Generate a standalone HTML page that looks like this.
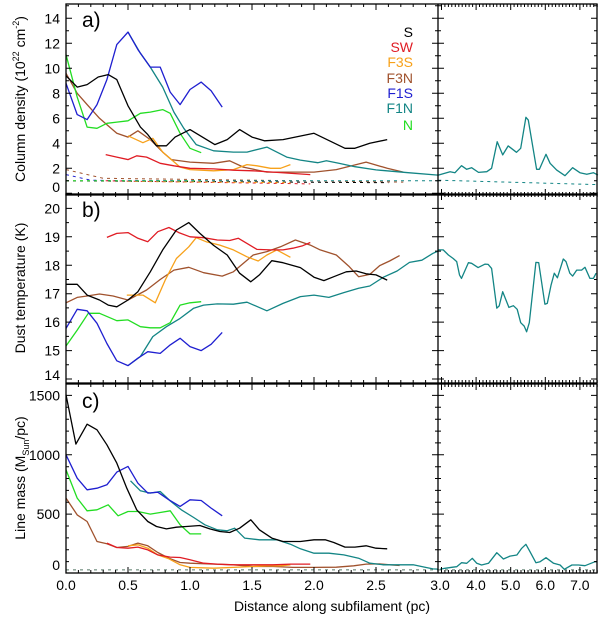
<!DOCTYPE html>
<html><head><meta charset="utf-8">
<style>
html,body{margin:0;padding:0;background:#fff;}
svg{display:block;font-family:"Liberation Sans",sans-serif;}
</style></head>
<body>
<svg id="chart" width="600" height="619" viewBox="0 0 600 619" xmlns="http://www.w3.org/2000/svg">
  <g id="marks"></g>
  <g id="axes"></g>
  <text transform="translate(25,99) rotate(-90)" text-anchor="middle" font-size="14">Column density (10<tspan font-size="9" dy="-6">22</tspan><tspan dy="6"> cm</tspan><tspan font-size="9" dy="-6">-2</tspan><tspan dy="6">)</tspan></text>
  <text transform="translate(25,288) rotate(-90)" text-anchor="middle" font-size="14">Dust temperature (K)</text>
  <text transform="translate(25,478) rotate(-90)" text-anchor="middle" font-size="14">Line mass (M<tspan font-size="9" dy="4">Sun</tspan><tspan dy="-4">/pc)</tspan></text>
  <text x="332" y="611" text-anchor="middle" font-size="14">Distance along subfilament (pc)</text>
  <text x="82" y="27" font-size="21">a)</text>
  <text x="82" y="217" font-size="21">b)</text>
  <text x="82" y="408" font-size="21">c)</text>
  <g font-size="14" text-anchor="end">
    <text x="413" y="37" fill="#000">S</text>
    <text x="413" y="52" fill="#e01c24">SW</text>
    <text x="413" y="67" fill="#f7a11a">F3S</text>
    <text x="413" y="83" fill="#a0522d">F3N</text>
    <text x="413" y="98" fill="#1f1fd0">F1S</text>
    <text x="413" y="113" fill="#138585">F1N</text>
    <text x="413" y="130" fill="#22dd22">N</text>
  </g>
</svg>
<script>
// ---- data: [distance pc, value] ----
const aS=[[0,9.4],[0.09,8.5],[0.17,8.7],[0.26,9.3],[0.34,9.5],[0.41,9.1],[0.5,7.0],[0.6,5.3],[0.66,4.7],[0.73,3.8],[0.81,3.8],[0.88,4.5],[1.0,5.1],[1.1,4.5],[1.2,3.9],[1.3,4.3],[1.4,5.1],[1.5,4.5],[1.6,4.2],[1.75,4.3],[2.0,4.8],[2.25,3.6],[2.33,3.6],[2.45,4.0],[2.59,4.3]];
const aSW=[[0.32,3.1],[0.41,2.9],[0.5,2.7],[0.57,3.0],[0.65,2.9],[0.76,2.4],[0.87,2.2],[1.0,2.0],[1.19,1.95],[1.35,1.85],[1.51,1.8],[1.67,1.7],[1.97,1.5]];
const aF3S=[[0.5,4.6],[0.62,4.05],[0.7,4.4],[0.78,3.3],[0.92,2.1],[1.0,1.9],[1.19,1.8],[1.35,1.9],[1.46,2.3],[1.54,2.2],[1.65,2.0],[1.73,2.0],[1.81,2.3]];
const aF3N=[[0,9.6],[0.09,8.0],[0.17,7.1],[0.27,6.0],[0.41,4.8],[0.5,4.5],[0.58,5.0],[0.68,4.3],[0.78,3.3],[0.85,2.7],[1.0,2.5],[1.19,2.4],[1.32,2.6],[1.43,2.1],[1.62,1.7],[2.0,1.7],[2.18,1.9],[2.42,2.5],[2.59,2.0],[2.72,1.7]];
const aF1S=[[0,8.8],[0.09,6.3],[0.17,5.9],[0.25,7.1],[0.33,9.1],[0.41,11.9],[0.5,12.9],[0.58,11.5],[0.68,10.1],[0.76,10.1],[0.84,8.1],[0.92,7.1],[1.0,8.3],[1.09,8.9],[1.17,8.2],[1.26,6.9]];
const aF1N=[[0.5,12.9],[0.6,11.2],[0.68,10.1],[0.78,8.5],[0.87,6.5],[0.95,5.2],[1.05,3.9],[1.19,3.4],[1.35,3.3],[1.46,3.3],[1.62,3.7],[1.78,2.9],[1.89,2.66],[2.03,2.45],[2.1,2.6],[2.2,2.4],[2.33,2.13],[2.5,1.87],[2.76,1.65],[3.0,1.46]];
const aF1Nright=[[2.91,1.46],[3.25,1.73],[3.39,1.65],[3.58,2.21],[3.73,1.92],[3.87,2.05],[4.07,1.67],[4.31,1.73],[4.45,2.0],[4.61,4.13],[4.77,3.07],[4.93,3.79],[5.17,3.28],[5.29,3.6],[5.44,6.08],[5.51,5.86],[5.75,1.92],[5.83,1.92],[6.02,3.12],[6.14,2.4],[6.33,1.86],[6.57,1.41],[6.79,2.05],[7.0,1.65],[7.2,1.52],[7.39,1.65],[7.52,1.46]];
const aN=[[0,11.1],[0.09,7.7],[0.17,5.3],[0.25,5.2],[0.33,5.6],[0.41,5.7],[0.5,5.8],[0.6,6.4],[0.68,6.5],[0.78,6.7],[0.84,6.4],[0.92,4.8],[1.0,3.6],[1.09,3.25]];
// background (dashed) column densities
const aBgS=[[0,1.0],[2.6,0.85]];
const aBgSW=[[0.32,1.0],[1.97,0.75]];
const aBgF3S=[[0.5,0.95],[1.81,0.85]];
const aBgF3N=[[0,1.9],[0.3,1.2],[2.72,0.9]];
const aBgF1S=[[0,1.5],[0.2,1.05],[1.26,0.9]];
const aBgF1N=[[0.5,1.0],[3.0,1.0]];
const aBgF1Nright=[[2.91,1.05],[7.5,0.7]];
const aBgN=[[0,1.0],[1.09,1.0]];

const bS=[[0,17.33],[0.09,17.33],[0.17,16.95],[0.27,16.78],[0.34,16.6],[0.41,16.54],[0.5,16.78],[0.58,17.07],[0.68,17.77],[0.78,18.54],[0.89,19.24],[0.99,19.5],[1.08,19.12],[1.19,18.7],[1.3,18.36],[1.4,17.72],[1.49,17.42],[1.56,17.66],[1.66,18.16],[1.75,18.09],[1.89,17.92],[2.0,17.58],[2.08,17.46],[2.16,17.6],[2.26,17.77],[2.34,17.8],[2.42,17.7],[2.5,17.66],[2.59,17.48]];
const bSW=[[0.33,18.98],[0.41,19.12],[0.5,19.15],[0.58,18.95],[0.66,18.83],[0.74,19.18],[0.83,19.33],[0.91,19.15],[1.0,19.0],[1.11,18.97],[1.22,18.89],[1.32,18.87],[1.39,18.95],[1.46,18.77],[1.54,18.56],[1.65,18.54],[1.75,18.54],[1.83,18.6],[1.91,18.69],[1.97,18.8]];
const bF3S=[[0.49,16.95],[0.62,16.95],[0.72,16.68],[0.8,17.48],[0.89,18.24],[0.99,18.65],[1.05,18.97],[1.13,18.83],[1.24,18.71],[1.35,18.54],[1.46,18.3],[1.55,18.15],[1.62,18.36],[1.7,18.54],[1.81,18.28]];
const bF3N=[[0,16.68],[0.09,16.87],[0.17,16.92],[0.27,16.99],[0.38,16.92],[0.5,16.78],[0.65,17.13],[0.76,17.5],[0.87,17.83],[0.99,17.93],[1.11,17.74],[1.26,17.62],[1.35,17.77],[1.51,18.36],[1.62,18.48],[1.73,18.65],[1.85,18.89],[1.97,18.71],[2.05,18.54],[2.18,18.36],[2.28,17.97],[2.36,17.6],[2.45,17.68],[2.53,17.99],[2.61,18.15],[2.69,18.34]];
const bF1S=[[0,15.78],[0.09,16.45],[0.17,16.4],[0.25,15.96],[0.33,15.25],[0.41,14.64],[0.5,14.47],[0.58,14.73],[0.66,14.96],[0.76,14.9],[0.84,15.2],[0.92,15.43],[1.0,15.14],[1.09,15.0],[1.17,15.22],[1.26,15.64]];
const bF1N=[[0.5,14.47],[0.6,14.79],[0.7,15.49],[0.81,15.84],[0.92,16.13],[1.03,16.49],[1.11,16.6],[1.22,16.64],[1.35,16.63],[1.46,16.7],[1.62,16.4],[1.75,16.66],[1.89,16.9],[2.0,16.95],[2.12,16.87],[2.24,17.04],[2.36,17.19],[2.45,17.27],[2.56,17.58],[2.67,17.8],[2.77,18.1],[2.87,18.18],[2.96,18.42],[3.0,18.5]];
const bF1Nright=[[2.91,18.54],[3.05,18.54],[3.2,18.36],[3.34,18.24],[3.44,18.13],[3.52,17.66],[3.58,17.54],[3.78,18.09],[3.87,18.07],[4.06,17.92],[4.26,18.04],[4.35,18.03],[4.45,17.89],[4.6,16.49],[4.67,16.57],[4.77,17.07],[4.95,16.52],[5.08,16.58],[5.19,16.45],[5.29,15.98],[5.39,15.86],[5.46,15.66],[5.54,15.98],[5.73,18.1],[5.81,18.09],[5.99,16.63],[6.06,16.66],[6.17,17.31],[6.26,17.72],[6.35,17.56],[6.52,18.22],[6.6,18.13],[6.71,17.72],[6.79,17.62],[6.91,17.83],[7.05,17.83],[7.15,17.93],[7.29,17.54],[7.39,17.54],[7.47,17.72]];
const bN=[[0,15.16],[0.09,15.72],[0.18,16.31],[0.27,16.31],[0.41,16.05],[0.5,16.08],[0.6,15.84],[0.68,15.8],[0.76,15.8],[0.84,15.98],[0.92,16.6],[1.0,16.68],[1.09,16.72]];

const cS=[[0,1506],[0.08,1090],[0.17,1258],[0.25,1211],[0.33,1084],[0.41,930],[0.49,719],[0.57,537],[0.66,438],[0.73,396],[0.81,376],[0.89,390],[0.97,396],[1.08,404],[1.16,376],[1.24,354],[1.32,345],[1.4,382],[1.49,452],[1.56,368],[1.66,298],[1.75,270],[1.89,270],[2.0,284],[2.09,284],[2.16,261],[2.25,222],[2.33,222],[2.42,233],[2.5,213],[2.59,208]];
const cSW=[[0.33,256],[0.41,219],[0.5,213],[0.58,222],[0.66,199],[0.74,157],[0.84,138],[0.92,135],[1.0,115],[1.11,87],[1.22,79],[1.35,73],[1.51,73],[1.67,73],[1.81,79],[1.97,79]];
const cF3S=[[0.5,233],[0.58,242],[0.66,213],[0.74,157],[0.83,124],[0.92,73],[1.0,51],[1.19,45],[1.35,51],[1.51,59],[1.62,65],[1.73,65],[1.81,73]];
const cF3N=[[0,635],[0.09,494],[0.17,438],[0.25,270],[0.33,250],[0.41,219],[0.5,228],[0.58,256],[0.66,233],[0.74,177],[0.83,129],[0.92,93],[1.0,87],[1.19,79],[1.35,73],[1.51,59],[1.67,59],[1.83,51],[2.0,51],[2.18,53],[2.32,65],[2.42,79],[2.53,81],[2.61,73],[2.69,67]];
const cF1S=[[0,1000],[0.09,803],[0.17,705],[0.25,719],[0.33,747],[0.41,854],[0.5,902],[0.58,761],[0.66,677],[0.74,685],[0.83,621],[0.92,565],[1.0,621],[1.09,615],[1.17,551],[1.26,486]];
const cF1N=[[0.52,781],[0.6,697],[0.68,677],[0.76,691],[0.84,612],[0.93,537],[1.03,472],[1.12,410],[1.22,368],[1.3,360],[1.36,382],[1.44,298],[1.56,284],[1.7,284],[1.81,247],[1.89,208],[2.0,171],[2.12,171],[2.24,157],[2.36,129],[2.45,87],[2.56,73],[2.69,73],[2.8,73],[2.9,51],[2.96,39],[3.0,37]];
const cF1Nright=[[2.96,35],[3.1,44],[3.3,52],[3.44,57],[3.58,91],[3.73,86],[3.89,128],[4.02,86],[4.16,72],[4.36,86],[4.6,175],[4.79,122],[4.98,147],[5.18,156],[5.32,212],[5.44,246],[5.56,184],[5.73,91],[5.85,99],[6.02,133],[6.24,86],[6.43,72],[6.55,35],[6.77,72],[6.96,72],[7.15,66],[7.44,99],[7.49,99]];
const cN=[[0,874],[0.09,635],[0.17,528],[0.25,537],[0.34,579],[0.42,486],[0.5,522],[0.58,522],[0.68,500],[0.76,514],[0.84,528],[0.92,410],[1.0,334],[1.09,334]];
const cBgLeft=[[0,30],[3.0,30]];
const cBgRight=[[2.9,30],[7.5,30]];

const leftTicksMajor=[0,0.5,1.0,1.5,2.0,2.5,3.0];
const leftTickLabels=["0.0","0.5","1.0","1.5","2.0","2.5","3.0"];
const rightTicksMajor=[4,5,6,7];
const rightTickLabels=["4.0","5.0","6.0","7.0"];
const aYTicks=[0,2,4,6,8,10,12,14];
const bYTicks=[14,15,16,17,18,19,20];
const cYTicks=[0,500,1000,1500];

// ---- scales ----
const XL0=66, XDIV=438, XR1=597;
function xL(d){return XL0+d*124;}
function xR(d){return XDIV+(d-2.9)*34.6;}
const panels={
  a:{top:4,bottom:195,y:v=>193.3-12.5*v,minor:1,ymin:0,ymax:15},
  b:{top:194,bottom:383,y:v=>379-(v-14)*28.43,minor:0.5,ymin:14,ymax:20.5},
  c:{top:384,bottom:573,y:v=>573.5-0.1187*v,minor:100,ymin:0,ymax:1590}
};
const NS="http://www.w3.org/2000/svg";
const marks=document.getElementById('marks');
const axes=document.getElementById('axes');
const COL={S:"#000000",SW:"#e01c24",F3S:"#f7a11a",F3N:"#a0522d",F1S:"#1f1fd0",F1N:"#138585",N:"#22dd22"};

function line(p,data,xf,color,name,dashed){
  const pl=document.createElementNS(NS,'polyline');
  pl.setAttribute('points',data.map(q=>xf(q[0]).toFixed(1)+','+panels[p].y(q[1]).toFixed(1)).join(' '));
  pl.setAttribute('fill','none');
  pl.setAttribute('stroke',color);
  pl.setAttribute('stroke-width',dashed?'1':'1.3');
  pl.setAttribute('stroke-linejoin','round');
  if(dashed) pl.setAttribute('stroke-dasharray','3,4');
  
  
  marks.appendChild(pl);
}
// panel a
line('a',aBgF3N,xL,COL.F3N,'bg-line-a-f3n',true);
line('a',aBgF1S,xL,COL.F1S,'bg-line-a-f1s',true);
line('a',aBgS,xL,COL.S,'bg-line-a-s',true);
line('a',aBgSW,xL,COL.SW,'bg-line-a-sw',true);
line('a',aBgF3S,xL,COL.F3S,'bg-line-a-f3s',true);
line('a',aBgN,xL,COL.N,'bg-line-a-n',true);
line('a',aBgF1N,xL,COL.F1N,'bg-line-a-f1n',true);
line('a',aBgF1Nright,xR,COL.F1N,'bg-line-a-f1n-right',true);
line('a',aF3N,xL,COL.F3N,'line-a-f3n');
line('a',aF3S,xL,COL.F3S,'line-a-f3s');
line('a',aSW,xL,COL.SW,'line-a-sw');
line('a',aN,xL,COL.N,'line-a-n');
line('a',aF1N,xL,COL.F1N,'line-a-f1n');
line('a',aF1Nright,xR,COL.F1N,'line-a-f1n-right');
line('a',aF1S,xL,COL.F1S,'line-a-f1s');
line('a',aS,xL,COL.S,'line-a-s');
// panel b
line('b',bF3N,xL,COL.F3N,'line-b-f3n');
line('b',bF3S,xL,COL.F3S,'line-b-f3s');
line('b',bSW,xL,COL.SW,'line-b-sw');
line('b',bN,xL,COL.N,'line-b-n');
line('b',bF1N,xL,COL.F1N,'line-b-f1n');
line('b',bF1Nright,xR,COL.F1N,'line-b-f1n-right');
line('b',bF1S,xL,COL.F1S,'line-b-f1s');
line('b',bS,xL,COL.S,'line-b-s');
// panel c
line('c',cBgLeft,xL,"#557766",'bg-line-c',true);
line('c',cBgRight,xR,"#557766",'bg-line-c-right',true);
line('c',cF3N,xL,COL.F3N,'line-c-f3n');
line('c',cF3S,xL,COL.F3S,'line-c-f3s');
line('c',cSW,xL,COL.SW,'line-c-sw');
line('c',cN,xL,COL.N,'line-c-n');
line('c',cF1N,xL,COL.F1N,'line-c-f1n');
line('c',cF1Nright,xR,COL.F1N,'line-c-f1n-right');
line('c',cF1S,xL,COL.F1S,'line-c-f1s');
line('c',cS,xL,COL.S,'line-c-s');

// ---- axes ----
let tickPath='';
function seg(x1,y1,x2,y2){tickPath+='M'+x1.toFixed(1)+' '+y1.toFixed(1)+'L'+x2.toFixed(1)+' '+y2.toFixed(1);}
for(const k of ['a','b','c']){
  const P=panels[k];
  // x ticks left panel
  for(let i=0;i<=30;i++){const x=xL(i/10);const L=(i%5===0)?6:3;seg(x,P.bottom,x,P.bottom-L);seg(x,P.top,x,P.top+L);}
  // x ticks right panel
  for(let i=30;i<=75;i++){const x=xR(i/10);if(x<XDIV+0.5)continue;const L=(i%10===0)?6:3;seg(x,P.bottom,x,P.bottom-L);seg(x,P.top,x,P.top+L);}
  // y ticks
  for(let v=P.ymin;v<=P.ymax+1e-6;v+=P.minor){
    const y=P.y(v); if(y<P.top+0.5||y>P.bottom-0.5) continue;
    const maj=(k==='a'?v%2===0:k==='b'?Math.abs(v-Math.round(v))<1e-6:v%500===0);
    const L=maj?6:3;
    seg(XL0,y,XL0+L,y); seg(XDIV-L,y,XDIV+L,y); seg(XR1-L,y,XR1,y);
  }
}
const tp=document.createElementNS(NS,'path');
tp.setAttribute('d',tickPath);tp.setAttribute('stroke','#000');tp.setAttribute('stroke-width','1');tp.setAttribute('fill','none');


axes.appendChild(tp);
for(const k of ['a','b','c']){
  const P=panels[k];
  const r=document.createElementNS(NS,'rect');
  r.setAttribute('x',XL0);r.setAttribute('y',P.top);r.setAttribute('width',XR1-XL0);r.setAttribute('height',P.bottom-P.top);
  r.setAttribute('fill','none');r.setAttribute('stroke','#000');r.setAttribute('stroke-width','1.3');
  
  
  axes.appendChild(r);
  const dv=document.createElementNS(NS,'line');
  dv.setAttribute('x1',XDIV);dv.setAttribute('x2',XDIV);dv.setAttribute('y1',P.top);dv.setAttribute('y2',P.bottom);
  dv.setAttribute('stroke','#000');dv.setAttribute('stroke-width','1.3');
  
  
  axes.appendChild(dv);
}
function txt(x,y,s,anchor,name){
  const t=document.createElementNS(NS,'text');
  t.setAttribute('x',x);t.setAttribute('y',y);t.setAttribute('text-anchor',anchor);t.setAttribute('font-size','14');
  t.textContent=s;
  
  
  axes.appendChild(t);
}
const yTickSets={a:aYTicks,b:bYTicks,c:cYTicks};
for(const k of ['a','b','c']){
  const P=panels[k];
  yTickSets[k].forEach(v=>{
    let y=P.y(v); if(y>P.bottom-8) y=P.bottom-8;
    txt(60,y+5,String(v),'end','y-tick-label-'+k);
  });
}
leftTicksMajor.forEach((d,i)=>txt(xL(d)+(i===6?2:0),590,leftTickLabels[i],'middle','x-tick-label'));
rightTicksMajor.forEach((d,i)=>txt(xR(d),590,rightTickLabels[i],'middle','x-tick-label-right'));
</script>
</body></html>
